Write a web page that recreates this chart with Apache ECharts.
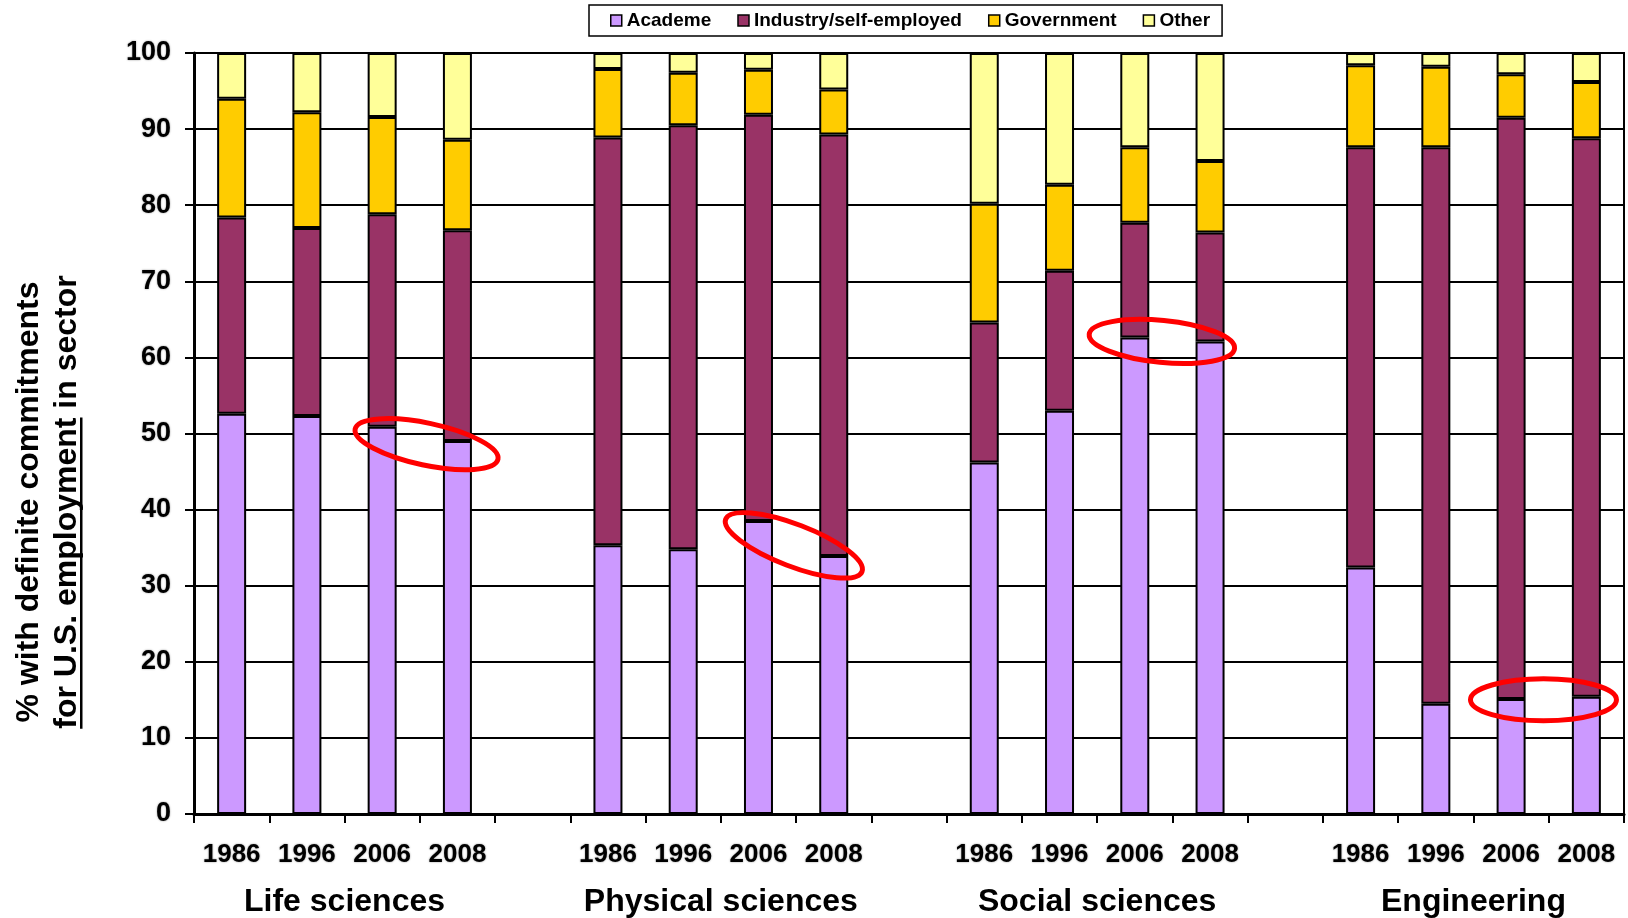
<!DOCTYPE html>
<html>
<head>
<meta charset="utf-8">
<script src="https://cdn.jsdelivr.net/npm/echarts@6/dist/echarts.min.js"></script>
<style>
  html, body { margin: 0; padding: 0; background: #fff; }
  #chart { width: 1628px; height: 918px; }
</style>
</head>
<body>
<div id="chart"></div>
<script>
// ---- data ----
var yearLabels = ['1986','1996','2006','2008','',
                  '1986','1996','2006','2008','',
                  '1986','1996','2006','2008','',
                  '1986','1996','2006','2008'];
var groupNames = ['Life sciences', 'Physical sciences', 'Social sciences', 'Engineering'];
var groupCenters = [2, 7, 12, 17];
var seriesNames = ['Academe', 'Industry/self-employed', 'Government', 'Other'];

var academe  = [52.6, 52.3, 50.9, 49.0, null, 35.3, 34.8, 38.5, 33.9, null, 46.2, 53.0, 62.6, 62.1, null, 32.4, 14.5, 15.1, 15.4];
var industry = [25.8, 24.7, 27.9, 27.7, null, 53.6, 55.7, 53.4, 55.4, null, 18.4, 18.4, 15.1, 14.3, null, 55.2, 73.1, 76.4, 73.4];
var govt     = [15.6, 15.2, 12.8, 11.9, null,  9.0,  6.9,  5.9,  5.9, null, 15.6, 11.3,  9.9,  9.4, null, 10.8, 10.6,  5.7,  7.4];
var other    = [ 6.0,  7.8,  8.4, 11.4, null,  2.1,  2.6,  2.2,  4.8, null, 19.8, 17.3, 12.4, 14.2, null,  1.6,  1.8,  2.8,  3.8];

var yTicks = [0, 100, 10];   // min, max, interval

// highlighted pairs: [first category index of pair, value at ellipse centre]
var circled = [[2, 48.6], [7, 35.3], [12, 62.1], [17, 15.0]];
// ---- end data ----

var ellipseLook = [ {dx: 0.09, tilt: 12}, {dx: -0.03, tilt: 21}, {dx: -0.14, tilt: 5.6}, {dx: -0.07, tilt: 0} ];

var colors = ['#cc99ff', '#993366', '#ffcc00', '#ffff99'];
var FONT = "'Liberation Sans', Arial, sans-serif";

var chart = echarts.init(document.getElementById('chart'), null, {renderer: 'canvas'});

function barSeries(name, data, color) {
  return {
    name: name, type: 'bar', stack: 'total', data: data,
    barWidth: 29,
    itemStyle: { color: color, borderColor: '#000', borderWidth: 2 },
    emphasis: { disabled: true }
  };
}

// measure text for the underline
var ctx = document.createElement('canvas').getContext('2d');
ctx.font = "bold 32px " + FONT;
var line2 = 'for U.S. employment in sector';
var line2W = ctx.measureText(line2).width;
var ulW = ctx.measureText('for U.S. employment').width;

var option = {
  animation: false,
  backgroundColor: '#fff',
  textStyle: { fontFamily: FONT },
  grid: { left: 194, right: 4, top: 53, bottom: 104, show: true, borderColor: '#000', borderWidth: 2, outerBoundsMode: 'none' },
  legend: {
    data: seriesNames,
    left: 589, top: 5,
    padding: [6, 12, 6, 21],
    itemGap: 26, itemWidth: 11, itemHeight: 11,
    icon: 'rect',
    borderColor: '#000', borderWidth: 1.5,
    itemStyle: { borderWidth: 1.5, borderColor: '#000' },
    textStyle: { fontSize: 19, fontWeight: 'bold', color: '#000', fontFamily: FONT }
  },
  xAxis: [{
    type: 'category', data: yearLabels,
    axisLine: { lineStyle: { color: '#000', width: 3 } },
    axisTick: { show: true, interval: 0, length: 9, lineStyle: { color: '#000', width: 2 } },
    axisLabel: { interval: 0, fontSize: 26, fontWeight: 'bold', color: '#000', margin: 28, fontFamily: FONT,
                 textShadowColor: 'rgba(0,0,0,0.45)', textShadowBlur: 2 },
    splitLine: { show: false }
  }, {
    type: 'value', min: 0, max: yearLabels.length, position: 'bottom',
    axisLine: { show: false }, axisTick: { show: false }, splitLine: { show: false },
    axisLabel: {
      customValues: groupCenters,
      fontSize: 32, fontWeight: 'bold', color: '#000', margin: 72, fontFamily: FONT,
      formatter: function (v) { var i = groupCenters.indexOf(v); return i >= 0 ? groupNames[i] : ''; }
    }
  }],
  yAxis: {
    type: 'value', min: yTicks[0], max: yTicks[1], interval: yTicks[2],
    axisLine: { show: true, lineStyle: { color: '#000', width: 3 } },
    axisTick: { show: true, length: 9, lineStyle: { color: '#000', width: 2 } },
    axisLabel: { fontSize: 27, fontWeight: 'bold', color: '#000', margin: 23, fontFamily: FONT,
                 textShadowColor: 'rgba(0,0,0,0.45)', textShadowBlur: 2 },
    splitLine: { show: true, lineStyle: { color: '#000', width: 2 } }
  },
  series: [
    barSeries(seriesNames[0], academe, colors[0]),
    barSeries(seriesNames[1], industry, colors[1]),
    barSeries(seriesNames[2], govt, colors[2]),
    barSeries(seriesNames[3], other, colors[3]),
    {
      type: 'custom', name: 'highlight', xAxisIndex: 0, yAxisIndex: 0, z: 10,
      data: circled,
      encode: { x: 0, y: 1 },
      silent: true,
      renderItem: function (params, api) {
        var look = ellipseLook[params.dataIndex];
        var p = api.coord([api.value(0), api.value(1)]);
        var band = api.size([1, 0])[0];
        return {
          type: 'ellipse',
          x: p[0] + band * (0.5 + look.dx),
          y: p[1],
          rotation: -look.tilt * Math.PI / 180,
          shape: { cx: 0, cy: 0, rx: band * 0.97, ry: 21 },
          style: { fill: 'none', stroke: '#ff0000', lineWidth: 5 }
        };
      }
    }
  ],
  graphic: [{
    type: 'group',
    x: 48, y: 502,
    rotation: Math.PI / 2,
    children: [
      { type: 'text', x: 0, y: -19,
        style: { text: '% with definite commitments', font: 'bold 32px ' + FONT, fill: '#000', align: 'center', verticalAlign: 'middle' } },
      { type: 'text', x: 0, y: 19,
        style: { text: line2, font: 'bold 32px ' + FONT, fill: '#000', align: 'center', verticalAlign: 'middle' } },
      { type: 'rect', shape: { x: -line2W / 2, y: 32, width: ulW, height: 2.5 }, style: { fill: '#000' } }
    ]
  }]
};

chart.setOption(option);
</script>
</body>
</html>
